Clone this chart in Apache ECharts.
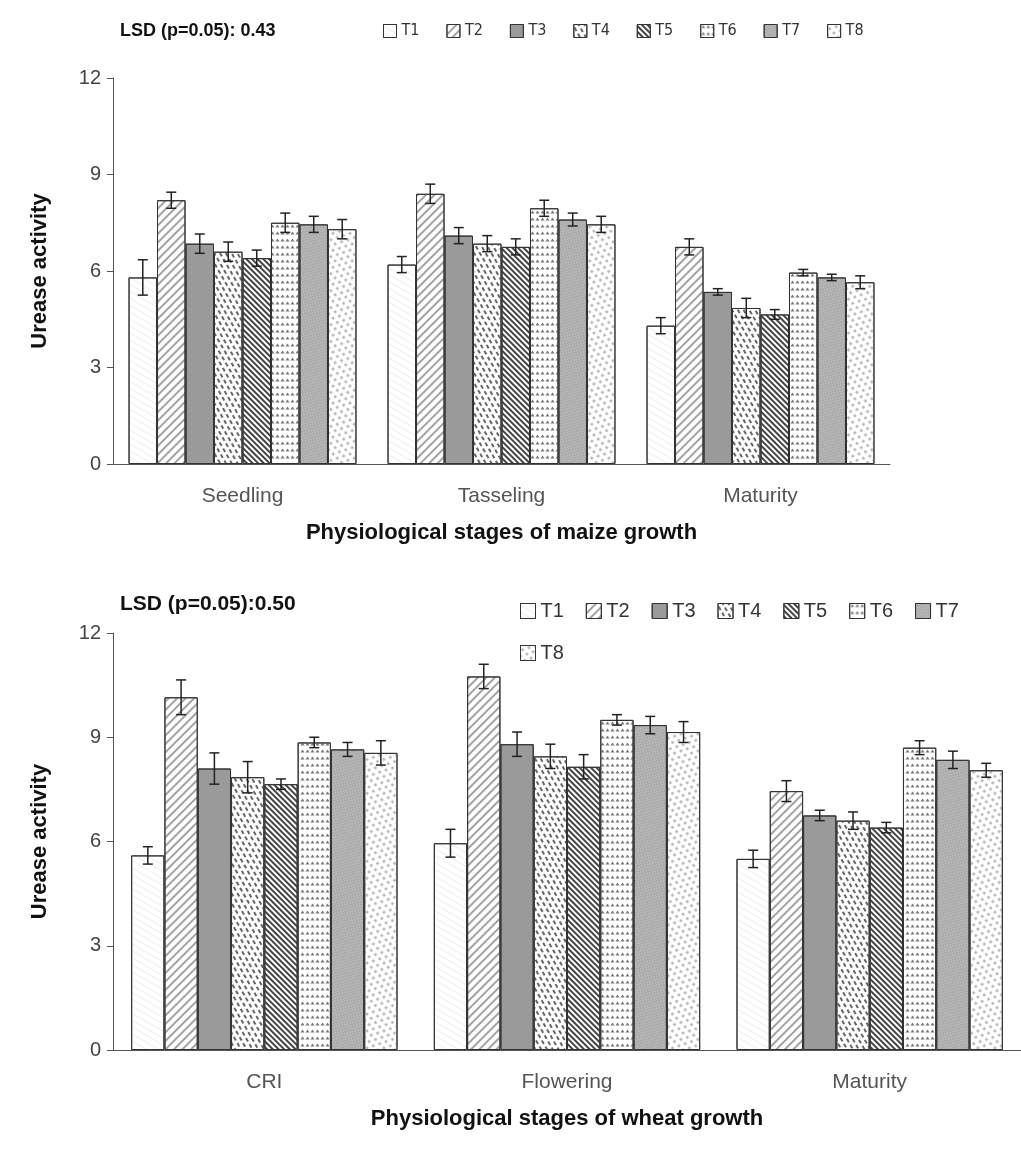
<!DOCTYPE html>
<html><head><meta charset="utf-8">
<script src="https://cdn.jsdelivr.net/npm/echarts@6/dist/echarts.min.js"></script>
<style>html,body{margin:0;background:#fff}#c{width:1021px;height:1166px}</style>
</head><body><div id="c"></div>
<script>
var treatments = ['T1','T2','T3','T4','T5','T6','T7','T8'];
var maizeStages = ['Seedling','Tasseling','Maturity'];
var wheatStages = ['CRI','Flowering','Maturity'];
// values per treatment, one entry per stage
var maizeVals = [[5.8,6.2,4.3],[8.2,8.4,6.75],[6.85,7.1,5.35],[6.6,6.85,4.85],[6.4,6.75,4.65],[7.5,7.95,5.95],[7.45,7.6,5.8],[7.3,7.45,5.65]];
var maizeErr = [[0.55,0.25,0.25],[0.25,0.3,0.25],[0.3,0.25,0.1],[0.3,0.25,0.3],[0.25,0.25,0.15],[0.3,0.25,0.1],[0.25,0.2,0.1],[0.3,0.25,0.2]];
var wheatVals = [[5.6,5.95,5.5],[10.15,10.75,7.45],[8.1,8.8,6.75],[7.85,8.45,6.6],[7.65,8.15,6.4],[8.85,9.5,8.7],[8.65,9.35,8.35],[8.55,9.15,8.05]];
var wheatErr = [[0.25,0.4,0.25],[0.5,0.35,0.3],[0.45,0.35,0.15],[0.45,0.35,0.25],[0.15,0.35,0.15],[0.15,0.15,0.2],[0.2,0.25,0.25],[0.35,0.3,0.2]];

var fills = ['#fff','#fff','#9a9a9a','#fff','#fff','#fff','#b8b8b8','#fff'];
var decals = [
  {symbol:'circle',symbolSize:0.35,dashArrayX:[1,0],dashArrayY:[3,3],color:'#777'},
  {symbol:'rect',dashArrayX:[1,0],dashArrayY:[2,4],rotation:-Math.PI/4,color:'#666'},
  {symbol:'none'},
  {symbol:'rect',dashArrayX:[[4,3],[0,3,4,0]],dashArrayY:[2,3],rotation:Math.PI/3,color:'#666'},
  {symbol:'rect',dashArrayX:[1,0],dashArrayY:[2,2],rotation:Math.PI/4,color:'#444'},
  {symbol:'triangle',symbolSize:0.8,dashArrayX:[5,0],dashArrayY:[4,3],color:'#777'},
  {symbol:'rect',symbolSize:0.6,dashArrayX:[[2,2],[0,2,2,0]],dashArrayY:[2,0],color:'#888'},
  {symbol:'rect',dashArrayX:[[3,3],[0,3,3,0]],dashArrayY:[3,3],rotation:Math.PI/4,color:'#aaa'}
];

function errSeries(vals, errs, axisIdx){
  var d = [];
  vals.forEach(function(s, si){ s.forEach(function(v, ci){ d.push([ci, v, errs[si][ci], si]); }); });
  return {
    type:'custom', xAxisIndex:axisIdx, yAxisIndex:axisIdx, z:10, data:d,
    renderItem:function(params, api){
      var band = api.size([1,0])[0], bw = band*0.88/8;
      var c = api.coord([api.value(0), api.value(1)]);
      var x = c[0] - band*0.44 + bw*(api.value(3)+0.5);
      var hi = api.coord([api.value(0), api.value(1)+api.value(2)])[1];
      var lo = api.coord([api.value(0), api.value(1)-api.value(2)])[1];
      var st = {stroke:'#222', lineWidth:1.5};
      return {type:'group', children:[
        {type:'line', shape:{x1:x,y1:hi,x2:x,y2:lo}, style:st},
        {type:'line', shape:{x1:x-5,y1:hi,x2:x+5,y2:hi}, style:st},
        {type:'line', shape:{x1:x-5,y1:lo,x2:x+5,y2:lo}, style:st}
      ]};
    }
  };
}

var series = [];
treatments.forEach(function(t, i){
  [maizeVals, wheatVals].forEach(function(vals, g){
    series.push({
      name:t, type:'bar', xAxisIndex:g, yAxisIndex:g, barGap:'0%', barCategoryGap:'12%',
      itemStyle:{color:fills[i], borderColor:'#333', borderWidth:1, decal:decals[i]},
      data:vals[i]
    });
  });
});
series.push(errSeries(maizeVals, maizeErr, 0));
series.push(errSeries(wheatVals, wheatErr, 1));

function yAx(gi){
  return {gridIndex:gi, type:'value', min:0, max:12, interval:3, name:'Urease activity',
    nameLocation:'middle', nameGap:62, nameTextStyle:{fontSize:22, fontWeight:'bold', color:'#111', fontFamily:'Liberation Sans'},
    axisLine:{show:true, lineStyle:{color:'#555'}}, axisTick:{show:true, length:6, lineStyle:{color:'#555'}},
    splitLine:{show:false}, axisLabel:{fontSize:20, color:'#444', margin:12, fontFamily:'Liberation Sans'}};
}
function xAx(gi, cats, title){
  return {gridIndex:gi, type:'category', data:cats, name:title, nameLocation:'middle', nameGap:58,
    nameTextStyle:{fontSize:22, fontWeight:'bold', color:'#111', fontFamily:'Liberation Sans'},
    axisLine:{lineStyle:{color:'#555'}}, axisTick:{length:8, lineStyle:{color:'#555'}},
    axisLabel:{fontSize:21, color:'#555', margin:22, fontFamily:'Liberation Sans'}};
}

var myChart = echarts.init(document.getElementById('c'));
myChart.setOption({
  animation:false,
  aria:{enabled:true, decal:{show:true}},
  grid:[{left:113, top:78, width:777, height:386}, {left:113, top:633, width:930, height:417}],
  xAxis:[xAx(0, maizeStages, 'Physiological stages of maize growth'), xAx(1, wheatStages, 'Physiological stages of wheat growth')],
  yAxis:[yAx(0), yAx(1)],
  legend:[
    {left:378, top:18, icon:'rect', itemWidth:13, itemHeight:13, itemGap:27, data:treatments,
      textStyle:{fontSize:16, color:'#333', fontFamily:'DejaVu Sans Condensed'}, itemStyle:{borderColor:'#333', borderWidth:1}},
    {left:515, top:596, icon:'rect', itemWidth:15, itemHeight:15, itemGap:22, data:treatments,
      textStyle:{fontSize:20, color:'#333', fontFamily:'Liberation Sans'}, itemStyle:{borderColor:'#333', borderWidth:1}}
  ],
  graphic:[
    {type:'text', left:120, top:22, style:{text:'LSD (p=0.05): 0.43', font:'bold 18px Liberation Sans', fill:'#111'}},
    {type:'text', left:120, top:594, style:{text:'LSD (p=0.05):0.50', font:'bold 21px Liberation Sans', fill:'#111'}}
  ],
  series:series
});
</script></body></html>
